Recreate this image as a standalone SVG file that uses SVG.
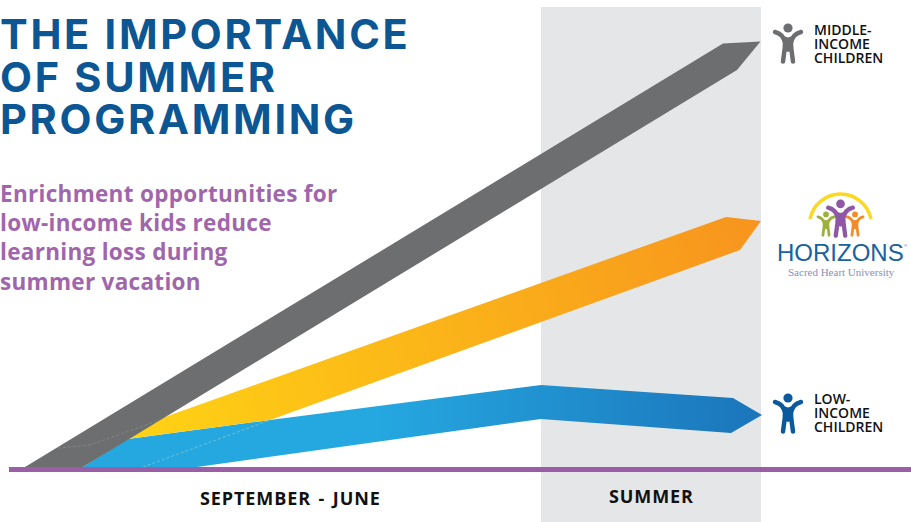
<svg xmlns="http://www.w3.org/2000/svg" width="911" height="522" viewBox="0 0 911 522">
<style>
.title{font-family:Inter,"Liberation Sans",sans-serif;font-size:41.5px;font-weight:700;fill:#0b5693;letter-spacing:2.7px}
.sub{font-family:"Open Sans","Liberation Sans",sans-serif;font-size:22.5px;font-weight:700;fill:#a066ac;letter-spacing:.3px}
.lab{font-family:"Open Sans","Liberation Sans",sans-serif;font-size:14px;font-weight:600;fill:#111}
.ax{font-family:"Open Sans","Liberation Sans",sans-serif;font-size:18px;font-weight:700;fill:#111;letter-spacing:.9px}
.limb{fill:none;stroke-linecap:round;stroke-linejoin:round}
</style>
<defs>
<linearGradient id="og" gradientUnits="userSpaceOnUse" x1="127" y1="439" x2="761" y2="221"><stop offset="0" stop-color="#ffd314"/><stop offset="1" stop-color="#f7941e"/></linearGradient>
<linearGradient id="bg" gradientUnits="userSpaceOnUse" x1="380" y1="420" x2="762" y2="415"><stop offset="0" stop-color="#25a7e0"/><stop offset="1" stop-color="#1b75bb"/></linearGradient>
<g id="kid"><circle cx="0" cy="-17" r="4.6"/><path class="limb" stroke="currentColor" stroke-width="4.5" d="M-13,-13 Q-4.5,-11 -3,-2 L-3.2,3 L-5,16.5 M13,-13 Q4.5,-11 3,-2 L3.2,3 L5,16.5"/><path d="M-4.5,-9 L0,-7.5 L4.5,-9 L4.8,5 L0,7 L-4.8,5Z"/></g>
</defs>
<rect id="summer-band" x="541" y="7" width="220" height="515" fill="#e5e6e8"/>
<g id="connectors">
<path id="blue-band" fill="url(#bg)" d="M83,467 L128,439 L270,420 L541,385 L733,398 L762,415 L731,433 L541,419 L197,467Z"/>
<path id="orange-band" fill="url(#og)" d="M127,439 L162,418 L726,217 L761,221 L740,250 L270,420Z"/>
<path id="gray-band" fill="#6d6e70" d="M25,467 L723,43.5 L760.5,41.5 L737,70 L83,467Z"/>
<path fill="none" stroke="#8d8e90" stroke-width=".7" stroke-dasharray="3 2" d="M58,448 L90,445 L160,420"/>
<path fill="none" stroke="#8fc9c8" stroke-width=".7" stroke-dasharray="3 2" d="M143,467 L270,420"/>
<rect id="baseline" x="9" y="467" width="902" height="5" fill="#9a5ea6"/>
</g>
<g id="title"><text class="title" x="0" y="49">THE IMPORTANCE</text><text class="title" x="0" y="92">OF SUMMER</text><text class="title" x="0" y="134">PROGRAMMING</text></g>
<g id="subtitle"><text class="sub" x="0" y="202">Enrichment opportunities for</text><text class="sub" x="0" y="231">low-income kids reduce</text><text class="sub" x="0" y="260">learning loss during</text><text class="sub" x="0" y="290">summer vacation</text></g>
<g id="middle-income"><use href="#kid" x="788" y="45" fill="#6d6e70" color="#6d6e70"/><text class="lab" x="814" y="35">MIDDLE-</text><text class="lab" x="814" y="49">INCOME</text><text class="lab" x="814" y="63">CHILDREN</text></g>
<g id="low-income"><use href="#kid" x="788" y="415" fill="#0b5a9c" color="#0b5a9c"/><text class="lab" x="814" y="404">LOW-</text><text class="lab" x="814" y="418">INCOME</text><text class="lab" x="814" y="432">CHILDREN</text></g>
<g id="horizons">
<path fill="none" stroke="#fcd920" stroke-width="3.5" d="M810,219 A31.1,31.1 0 0 1 871,219"/>
<use href="#kid" transform="translate(826,225) scale(.62)" fill="#9bb13c" color="#9bb13c"/>
<use href="#kid" transform="translate(855,225) scale(.62)" fill="#f28c28" color="#f28c28"/>
<use href="#kid" transform="translate(840.5,220) scale(.95)" fill="#8f58a6" color="#8f58a6"/>
<text x="777" y="261" font-family="'Liberation Sans',sans-serif" font-size="24" fill="#17629f">HORIZONS</text>
<text x="904" y="247" font-family="'Liberation Sans',sans-serif" font-size="4" fill="#17629f">®</text>
<text x="788" y="276" font-family="'Liberation Serif',serif" font-size="11" fill="#8393bd">Sacred Heart University</text>
</g>
<g id="axis"><text class="ax" x="200" y="505" word-spacing="2">SEPTEMBER - JUNE</text><text class="ax" x="609" y="503">SUMMER</text></g>
</svg>
